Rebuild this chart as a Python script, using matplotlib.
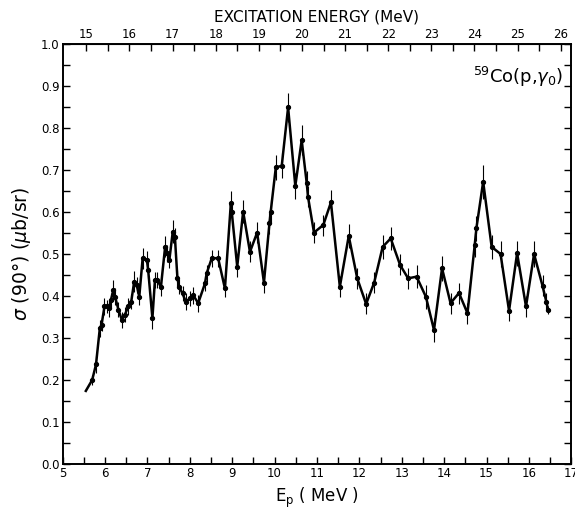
import numpy as np
import matplotlib.pyplot as plt

# proton energy (MeV) and cross section (ub/sr)
ep = [5.55, 5.70, 5.79, 5.88, 5.92, 5.99, 6.04, 6.10, 6.14, 6.20, 6.24, 6.32,
      6.40, 6.47, 6.55, 6.62, 6.69, 6.75, 6.81, 6.89, 6.99, 7.02, 7.12, 7.18,
      7.24, 7.32, 7.42, 7.47, 7.52, 7.60, 7.65, 7.71, 7.75, 7.83, 7.91, 8.01,
      8.08, 8.20, 8.36, 8.40, 8.52, 8.67, 8.83, 8.97, 8.99, 9.12, 9.26, 9.42,
      9.59, 9.75, 9.88, 9.91, 10.03, 10.17, 10.32, 10.49, 10.64, 10.76, 10.79,
      10.93, 11.15, 11.33, 11.54, 11.75, 11.95, 12.16, 12.35, 12.55, 12.74,
      12.96, 13.15, 13.35, 13.57, 13.76, 13.95, 14.15, 14.35, 14.55, 14.72,
      14.76, 14.92, 15.12, 15.33, 15.53, 15.72, 15.93, 16.12, 16.32, 16.41,
      16.45]
sigma = [0.174, 0.200, 0.237, 0.323, 0.331, 0.375, 0.375, 0.371, 0.390, 0.414,
         0.398, 0.367, 0.343, 0.355, 0.375, 0.386, 0.434, 0.426, 0.398, 0.490,
         0.486, 0.462, 0.347, 0.438, 0.438, 0.421, 0.517, 0.502, 0.486, 0.553,
         0.541, 0.442, 0.422, 0.406, 0.386, 0.395, 0.402, 0.383, 0.430, 0.454,
         0.490, 0.490, 0.418, 0.621, 0.601, 0.470, 0.601, 0.505, 0.551, 0.432,
         0.573, 0.601, 0.706, 0.710, 0.849, 0.662, 0.771, 0.668, 0.636, 0.551,
         0.569, 0.623, 0.422, 0.543, 0.442, 0.381, 0.432, 0.517, 0.537, 0.474,
         0.442, 0.446, 0.398, 0.319, 0.466, 0.383, 0.407, 0.359, 0.521, 0.561,
         0.672, 0.517, 0.500, 0.365, 0.502, 0.375, 0.500, 0.424, 0.386, 0.367]
err = [0.0, 0.012, 0.020, 0.020, 0.015, 0.020, 0.015, 0.020, 0.018, 0.025,
       0.020, 0.018, 0.020, 0.018, 0.020, 0.018, 0.025, 0.020, 0.020, 0.025,
       0.020, 0.020, 0.025, 0.020, 0.020, 0.020, 0.025, 0.020, 0.020, 0.028,
       0.020, 0.020, 0.018, 0.018, 0.020, 0.018, 0.020, 0.020, 0.018, 0.020,
       0.020, 0.020, 0.020, 0.028, 0.020, 0.025, 0.028, 0.025, 0.025, 0.025,
       0.025, 0.028, 0.030, 0.030, 0.035, 0.030, 0.035, 0.030, 0.025, 0.025,
       0.025, 0.030, 0.025, 0.028, 0.025, 0.025, 0.025, 0.028, 0.028, 0.025,
       0.025, 0.028, 0.028, 0.028, 0.030, 0.025, 0.025, 0.025, 0.028, 0.030,
       0.040, 0.028, 0.030, 0.025, 0.030, 0.025, 0.030, 0.025, 0.020, 0.010]

Q = 9.53  # 59Co + p -> 60Ni


def ep_to_ex(x):
    return np.asarray(x) * 59.0 / 60.0 + Q


def ex_to_ep(x):
    return (np.asarray(x) - Q) * 60.0 / 59.0


plt.rcParams['font.family'] = 'DejaVu Sans'
fig = plt.figure(figsize=(5.75, 5.14), dpi=100)
ax = fig.add_axes([0.1087, 0.0973, 0.885, 0.8171])

ax.plot(ep, sigma, color='black', lw=1.8)
ax.errorbar(ep[1:], sigma[1:], yerr=err[1:], fmt='o', ms=2.8, color='black',
            ecolor='black', elinewidth=0.8, capsize=0)

ax.set_xlim(5, 17)
ax.set_ylim(0, 1.0)
ax.set_xticks(np.arange(5, 18, 1))
ax.set_xticks(np.arange(5.5, 17, 1), minor=True)
ax.set_yticks(np.arange(0, 1.01, 0.1))
ax.set_yticks(np.arange(0.05, 1.0, 0.1), minor=True)
ax.set_yticklabels(['%.1f' % v for v in np.arange(0, 1.01, 0.1)])
ax.tick_params(which='both', direction='in', width=1.0, labelsize=8.5,
               right=True, top=False, pad=2)
ax.tick_params(which='major', length=5)
ax.tick_params(which='minor', length=5)
for s in ax.spines.values():
    s.set_linewidth(1.4)

ax.set_xlabel('E$_\\mathregular{p}$ ( MeV )', fontsize=12, labelpad=4)
ax.set_ylabel('$\\sigma$ (90°) ($\\mu$b/sr)', fontsize=13.5, labelpad=6)

top = ax.secondary_xaxis('top', functions=(ep_to_ex, ex_to_ep))
top.set_xticks(np.arange(15, 27, 1))
top.set_xticks(np.arange(15.5, 26, 1), minor=True)
top.tick_params(which='both', direction='in', length=5, width=1.0,
                labelsize=8.5, pad=2)
top.set_xlabel('EXCITATION ENERGY (MeV)', fontsize=11, labelpad=5)

ax.text(0.985, 0.922, '$^{59}$Co(p,$\\gamma_0$)', transform=ax.transAxes,
        ha='right', va='center', fontsize=13)

fig.savefig('out.png', dpi=100)
